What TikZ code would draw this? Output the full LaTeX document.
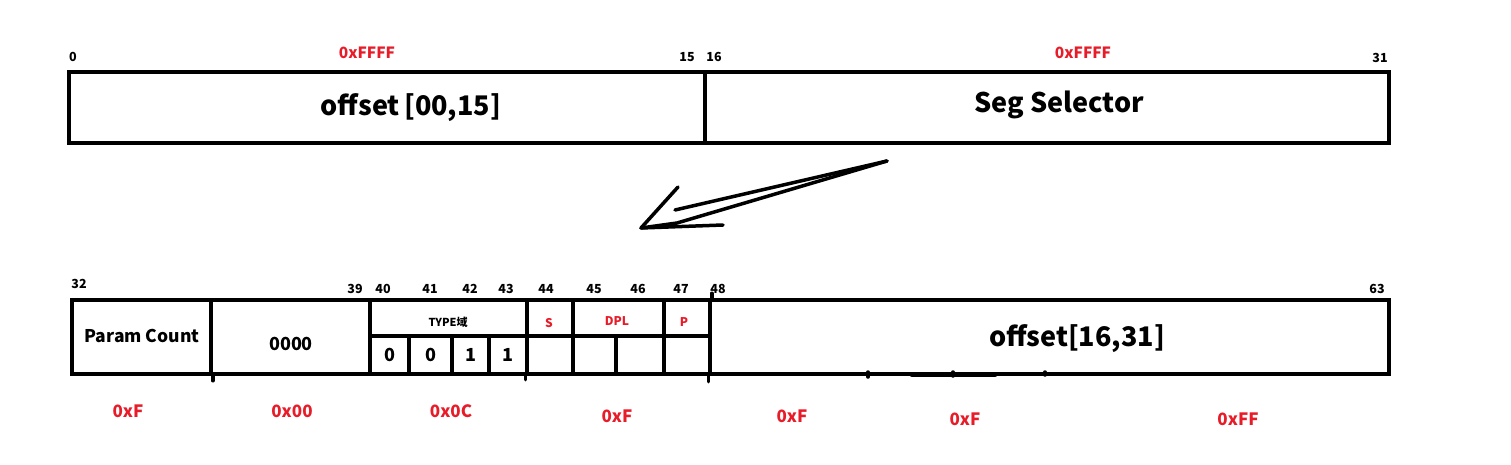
\documentclass[tikz,border=0pt]{standalone}
\usepackage{fontspec}
\setmainfont{Noto Sans CJK SC}
\usepackage{xcolor}
\usepackage{tikz}
\usetikzlibrary{positioning, calc}
\definecolor{hexred}{RGB}{232,28,40}
\tikzstyle{field} = [draw=black, line width=3.5pt, inner sep=0pt]
\tikzstyle{bigtext} = [inner sep=0pt, font=\bfseries\fontsize{27}{27}\selectfont]
\tikzstyle{midtext} = [inner sep=0pt, font=\bfseries\fontsize{18}{18}\selectfont]
\tikzstyle{bitnum} = [inner sep=0pt, font=\bfseries\fontsize{12.5}{12.5}\selectfont]
\tikzstyle{hexval} = [inner sep=0pt, text=hexred, font=\bfseries\fontsize{17}{17}\selectfont]
\tikzstyle{flag} = [inner sep=0pt, text=hexred, font=\bfseries\fontsize{12}{12}\selectfont]
\tikzstyle{pen} = [line width=3.5pt, line cap=round, line join=round]

\begin{document}
\begin{tikzpicture}[x=1pt, y=-1pt]
\useasboundingbox (0,0) rectangle (1511,465);

% first double word
\node[field, minimum width=636pt, minimum height=71pt] (offlow) at (387,107.5) {};
\node[field, minimum width=684pt, minimum height=71pt] (selector) at (1047,107.5) {};
\node[bigtext] (offlowtext) at (411,108) {offset\,[00,15]};
\node[bigtext] (selectortext) at (1059,105) {Seg Selector};

\node[bitnum] (b0) at (73,57) {0};
\node[bitnum] (b15) at (687,57) {15};
\node[bitnum] (b16) at (714,57) {16};
\node[bitnum] (b31) at (1380,58) {31};
\node[hexval, font=\bfseries\fontsize{15.5}{15.5}\selectfont] (hexlow) at (367,53) {0xFFFF};
\node[hexval, font=\bfseries\fontsize{15.5}{15.5}\selectfont] (hexsel) at (1083,53) {0xFFFF};

% second double word
\node[field, minimum width=139pt, minimum height=74pt] (pcount) at (141.5,337) {};
\node[field, minimum width=159pt, minimum height=74pt] (zeros) at (290.5,337) {};
\node[field, minimum width=157pt, minimum height=36pt] (typehdr) at (448.5,318) {};
\node[field, minimum width=46pt, minimum height=36pt] (sfield) at (550,318) {};
\node[field, minimum width=91pt, minimum height=36pt] (dplfield) at (618.5,318) {};
\node[field, minimum width=46pt, minimum height=36pt] (pfield) at (687,318) {};
\node[field, minimum width=679pt, minimum height=74pt] (offhigh) at (1049.5,337) {};

\foreach \cx/\cw/\val [count=\i] in {389.5/39/0, 430.5/43/0, 470.5/37/1, 508/38/1,
  550/46/, 594.5/43/, 640/48/, 687/46/}
  \node[field, minimum width=\cw pt, minimum height=38pt, midtext] (cell\i) at (\cx,355) {\val};

\node[midtext, font=\bfseries\fontsize{17.5}{17.5}\selectfont] (pcounttext) at (142,336) {Param Count};
\node[midtext] (zerostext) at (291,344) {0000};
\node[inner sep=0pt, font=\bfseries\fontsize{11}{11}\selectfont] (typetext) at (448,322) {TYPE域};
\node[flag] (stext) at (549,323) {S};
\node[flag] (dpltext) at (617,321) {DPL};
\node[flag] (ptext) at (684,322) {P};
\node[bigtext] (offhightext) at (1077,339) {offset[16,31]};

\foreach \num/\px in {39/355, 40/383, 41/430, 42/470, 43/506, 44/546, 45/594, 46/638, 47/681, 48/718, 63/1377}
  \node[bitnum] (n\num) at (\px,289) {\num};
\node[bitnum] (n32) at (79,284) {32};

\node[hexval] (h1) at (128,411) {0xF};
\node[hexval] (h2) at (292,411) {0x00};
\node[hexval] (h3) at (451,411) {0x0C};
\node[hexval] (h4) at (617,416) {0xF};
\node[hexval] (h5) at (792,416) {0xF};
\node[hexval] (h6) at (965,419) {0xF};
\node[hexval] (h7) at (1238,419) {0xFF};

% stray pen marks
\draw[pen] (pcount.south east) -- ++(0,5);
\draw[pen] (sfield.south west |- pcount.south) -- ++(0,4);
\draw[pen] (pfield.north east) -- ++(0,-5);
\draw[pen] (offhigh.south west) -- ++(0,6);
\draw[pen] (868,372) -- (868,377);
\draw[pen, line width=4.5pt] (912,375) -- (995,375);
\draw[pen] (953,372) -- (953,376);
\draw[pen] (1045,372) -- (1045,375);

% hand drawn arrow
\coordinate (atail) at (887,161);
\coordinate (atip) at (641,228);
\draw[pen] (atail) -- (675,210);
\draw[pen] (atail) -- (677,223) -- (atip);
\draw[pen] (678,187) -- (atip) -- (723,225);
\end{tikzpicture}
\end{document}
